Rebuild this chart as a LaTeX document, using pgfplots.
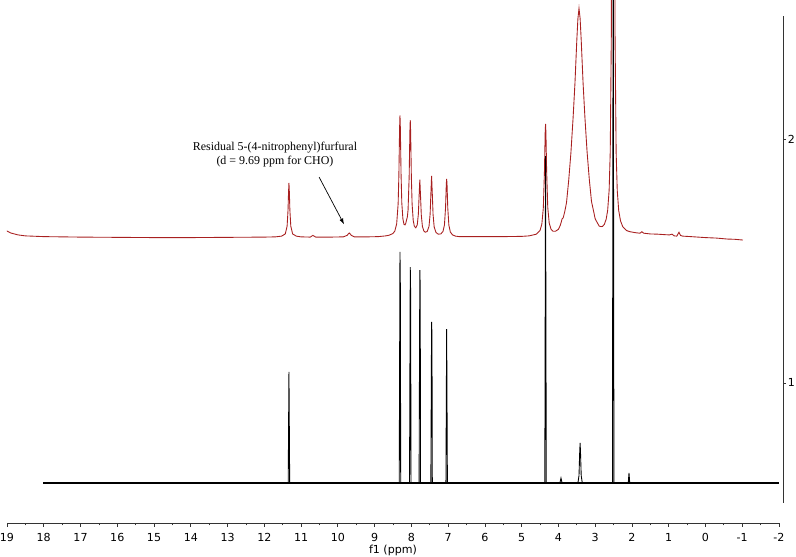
\documentclass[border=0pt]{standalone}
\usepackage{fontspec}
\setmainfont{DejaVu Sans}
\newfontfamily\annfont{Liberation Serif}
\usepackage{pgfplots}
\pgfplotsset{compat=1.18}
\usetikzlibrary{arrows.meta}
\definecolor{spec2}{RGB}{168,32,32}

\begin{document}
\begin{tikzpicture}
% main axis: spectra + f1 scale
\begin{axis}[
  at={(0,0)}, anchor=south west,
  scale only axis, width=15.44cm, height=10.46cm,
  xmin=-2, xmax=19, x dir=reverse,
  ymin=0.426, ymax=2.570,
  axis x line*=bottom, axis y line=none,
  xtick={-2,...,19}, minor x tick num=1,
  tick align=outside,
  major tick length=0.08cm, minor tick length=0.05cm,
  x axis line style={black!80},
  every tick/.style={black!80},
  /pgf/number format/assume math mode=true,
  ticklabel style={font=\fontsize{6.3}{7.5}\selectfont},
  xlabel={f1 (ppm)},
  xlabel style={font=\fontsize{6.3}{7.5}\selectfont, at={(axis description cs:0.5,0)}, anchor=center, yshift=-0.54cm},
]
% spectrum 2 (red)
\addplot[spec2, line width=0.5pt] coordinates {
 (19.05,1.627) (18.9,1.615) (18.7,1.607) (18.5,1.603) (18.0,1.600) (17.0,1.598)
 (16.0,1.597) (15.0,1.596) (14.0,1.596) (13.0,1.597) (12.0,1.598) (11.7,1.599)
 (11.53,1.602) (11.43,1.611) (11.38,1.643) (11.355,1.709) (11.342,1.779) (11.33,1.820)
 (11.318,1.779) (11.305,1.709) (11.28,1.643) (11.23,1.611) (11.13,1.602) (11.0,1.599)
 (10.75,1.598) (10.68,1.605) (10.6,1.598) (10.2,1.598) (9.85,1.599) (9.75,1.605)
 (9.69,1.615) (9.63,1.605) (9.55,1.599) (9.2,1.599) (8.9,1.600) (8.7,1.603)
 (8.6,1.606) (8.5,1.613) (8.45,1.623) (8.4,1.652) (8.36,1.734) (8.34,1.850)
 (8.32,2.047) (8.31,2.097) (8.30,2.048) (8.28,1.852) (8.26,1.738) (8.23,1.672)
 (8.2,1.650) (8.17,1.648) (8.15,1.656) (8.13,1.669) (8.11,1.680) (8.09,1.709)
 (8.06,1.846) (8.04,2.033) (8.03,2.078) (8.02,2.031) (8.0,1.843) (7.98,1.733)
 (7.95,1.667) (7.92,1.643) (7.88,1.636) (7.84,1.648) (7.81,1.692) (7.79,1.765)
 (7.77,1.834) (7.75,1.764) (7.73,1.689) (7.70,1.642) (7.66,1.623) (7.62,1.618)
 (7.57,1.621) (7.52,1.642) (7.49,1.692) (7.47,1.773) (7.45,1.849) (7.43,1.773)
 (7.41,1.691) (7.38,1.640) (7.33,1.617) (7.27,1.610) (7.2,1.611) (7.14,1.621)
 (7.10,1.648) (7.07,1.719) (7.05,1.814) (7.04,1.837) (7.03,1.814) (7.01,1.718)
 (6.98,1.647) (6.94,1.619) (6.88,1.607) (6.8,1.602) (6.7,1.600) (6.5,1.600)
 (6.2,1.600) (5.5,1.600) (5.0,1.601) (4.8,1.603) (4.6,1.610) (4.5,1.625)
 (4.45,1.652) (4.41,1.719) (4.38,1.868) (4.36,2.027) (4.35,2.062) (4.34,2.027)
 (4.32,1.868) (4.29,1.720) (4.25,1.655) (4.2,1.630) (4.15,1.622) (4.08,1.622)
 (4.0,1.630) (3.95,1.646) (3.92,1.661) (3.90,1.673) (3.87,1.677) (3.83,1.701)
 (3.78,1.739) (3.72,1.831) (3.66,1.944) (3.60,2.089) (3.55,2.229) (3.50,2.404)
 (3.47,2.493) (3.44,2.536) (3.41,2.495) (3.38,2.406) (3.33,2.232) (3.28,2.091)
 (3.22,1.947) (3.16,1.835) (3.10,1.744) (3.05,1.709) (3.0,1.673) (2.95,1.659)
 (2.89,1.643) (2.84,1.641) (2.80,1.642) (2.75,1.650) (2.70,1.672) (2.66,1.708)
 (2.62,1.791) (2.59,1.949) (2.56,2.436) (2.54,3.610) (2.52,8.54) (2.51,11.62)
 (2.50,8.54) (2.48,3.610) (2.46,2.434) (2.43,1.947) (2.40,1.790) (2.36,1.707)
 (2.31,1.664) (2.25,1.641) (2.15,1.625) (2.05,1.620) (1.9,1.616) (1.78,1.614)
 (1.73,1.620) (1.68,1.614) (1.5,1.611) (1.3,1.610) (1.1,1.608) (0.98,1.607)
 (0.91,1.610) (0.85,1.603) (0.78,1.602) (0.72,1.618) (0.68,1.605) (0.62,1.602)
 (0.4,1.600) (0.2,1.598) (0.0,1.596) (-0.3,1.594) (-0.6,1.590) (-0.8,1.589)
 (-1.02,1.586)
};
% spectrum 1 (black): noisy baseline drawn thicker, then the lines
\addplot[black, line width=1.3pt] coordinates {(18.02,0.590) (-2.0,0.590)};
\addplot[black, line width=0.5pt] coordinates {
 (18.02,0.590) (11.35,0.590) (11.33,1.045) (11.31,0.590)
 (8.33,0.590) (8.31,1.537) (8.30,1.40) (8.29,0.590)
 (8.05,0.590) (8.03,1.475) (8.02,1.37) (8.01,0.590)
 (7.79,0.590) (7.77,1.463) (7.76,1.40) (7.75,0.590)
 (7.47,0.590) (7.45,1.250) (7.44,1.20) (7.43,0.590)
 (7.06,0.590) (7.04,1.221) (7.02,0.590)
 (4.37,0.590) (4.35,1.930) (4.33,0.590)
 (3.96,0.590) (3.93,0.610) (3.90,0.590)
 (3.47,0.590) (3.44,0.62) (3.42,0.72) (3.41,0.754) (3.40,0.72) (3.38,0.62) (3.35,0.590)
 (2.53,0.590) (2.51,3.0) (2.49,0.590)
 (2.10,0.590) (2.08,0.631) (2.06,0.590) (-2.0,0.590)
};
\node[font=\annfont\fontsize{6.8}{8}\selectfont, align=center] at (axis cs:11.71,1.935)
  {Residual 5-(4-nitrophenyl)furfural\\(d = 9.69 ppm for CHO)};
\draw[black, line width=0.4pt, -{Latex[length=1.2mm,width=0.8mm]}]
  (axis cs:10.51,1.844) -- (axis cs:9.83,1.650);
\end{axis}
% stacking scale on the right
\begin{axis}[
  at={(0,0.4cm)}, anchor=south west,
  scale only axis, width=15.52cm, height=9.74cm,
  xmin=-2.109, xmax=19, x dir=reverse,
  ymin=0.508, ymax=2.504,
  axis y line*=right, axis x line=none,
  y axis line style={black!80},
  every tick/.style={black!80},
  ytick={1,2}, tick align=outside, major tick length=0.06cm,
  /pgf/number format/assume math mode=true,
  ticklabel style={font=\fontsize{6.3}{7.5}\selectfont},
  yticklabel style={inner sep=0.8pt},
]
\addplot[draw=none] coordinates {(0,1)};
\end{axis}
\pgfresetboundingbox
\path (-0.14,-0.68) rectangle (15.78,10.46);
\end{tikzpicture}
\end{document}
